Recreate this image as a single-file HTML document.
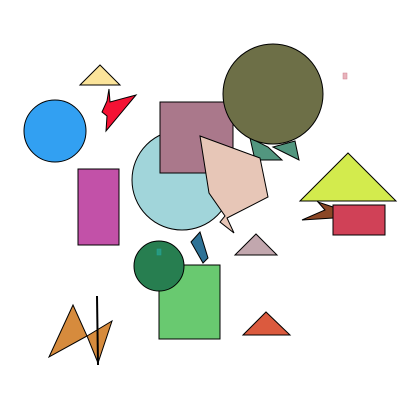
<!DOCTYPE html>
<html><head><meta charset="utf-8"><style>html,body{margin:0;padding:0;background:#fff}svg{display:block}</style></head>
<body>
<svg width="400" height="400" viewBox="0 0 400 400" stroke="#000" stroke-width="1">
<polygon points="80,85 100,65 120,85" fill="#fbe49a"/>
<polygon points="109,89 107,101 102,112 107,116 106,131 136,95 110,102" fill="#f41234"/>
<circle cx="55" cy="131" r="31" fill="#32a0f2"/>
<rect x="78" y="169" width="41" height="76" fill="#c251a8"/>
<circle cx="182" cy="180" r="50" fill="#a1d5da"/>
<rect x="160" y="102" width="73" height="71" fill="#aa788b"/>
<polygon points="250,138 255,160 282,160 268,147" fill="#52967f"/>
<polygon points="273,147 299,160 295,141" fill="#52967f"/>
<circle cx="273" cy="94" r="50" fill="#6d6f47"/>
<polygon points="200,136 260,158 268,197 227,218 234,233 220,222 225,216 209,193" fill="#e7c6b7"/>
<polygon points="300,201 348,153 396,201" fill="#d3eb4d"/>
<polygon points="302,220 325,210 318,202 333,207 333,218" fill="#8b4726"/>
<rect x="333" y="205" width="52" height="30" fill="#d04157"/>
<rect x="343" y="73" width="4" height="6" fill="#e8b4bc" stroke="#d08090" stroke-width="0.5"/>
<polygon points="191,242 200,232 208,258 203,263" fill="#2e7296"/>
<polygon points="235,255 256,234 277,255" fill="#c2a7ae"/>
<rect x="159" y="265" width="61" height="74" fill="#69c970"/>
<circle cx="159" cy="266" r="25" fill="#277e50"/>
<rect x="157" y="249" width="4" height="6" fill="#2a9a7a" stroke="#1aa0a0" stroke-width="0.5"/>
<polygon points="243,335 266,312 290,335" fill="#db5a3e"/>
<polygon points="49,357 73,305 87,336" fill="#d68b3d"/>
<polygon points="87,336 112,321 98,363" fill="#d68b3d"/>
<line x1="97" y1="296" x2="98" y2="365" stroke-width="2"/>
</svg>
</body></html>
